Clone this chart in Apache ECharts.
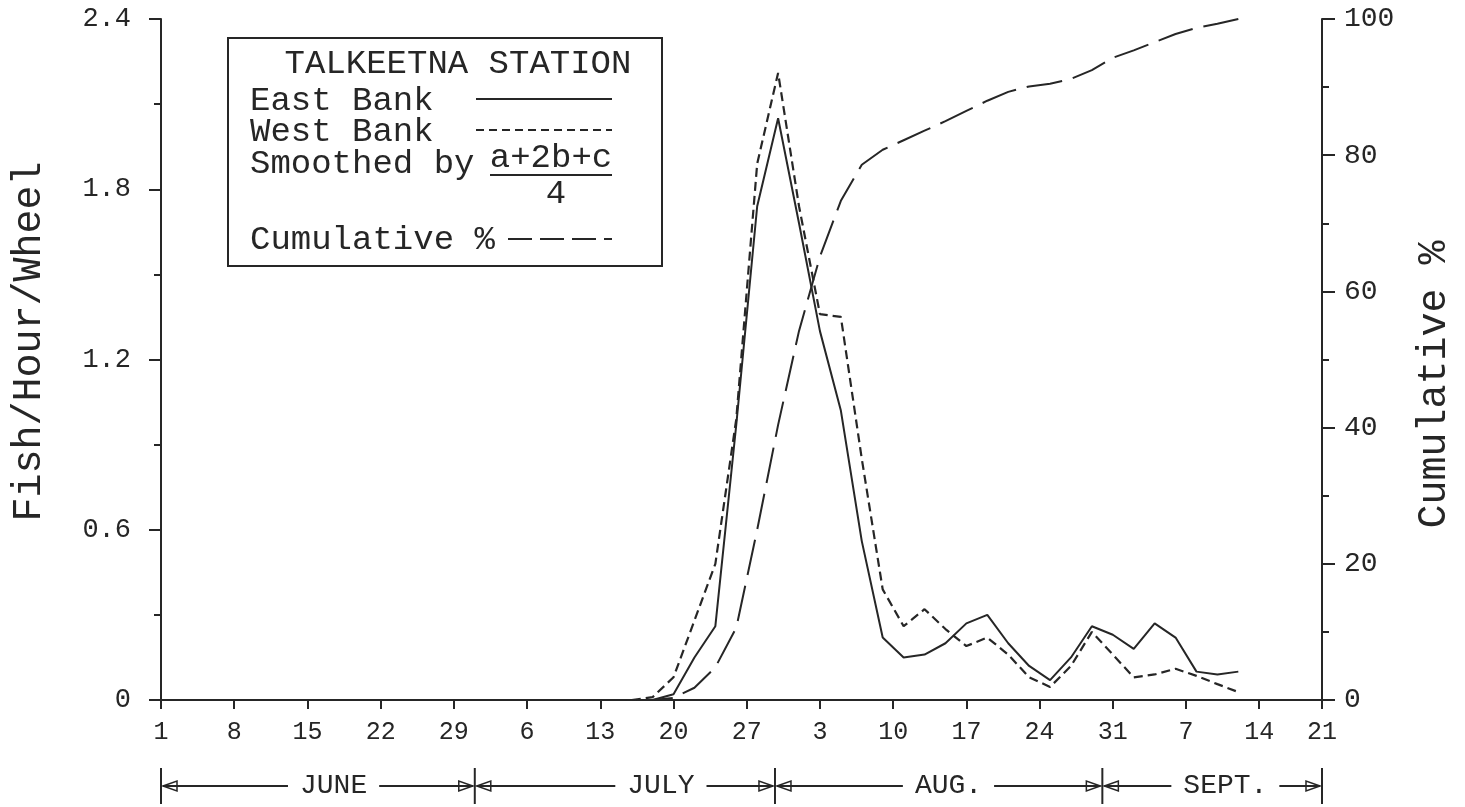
<!DOCTYPE html>
<html><head><meta charset="utf-8">
<script src="https://cdn.jsdelivr.net/npm/echarts@6/dist/echarts.min.js"></script>
<style>html,body{margin:0;padding:0;background:#fff}#c{width:1465px;height:807px}</style>
</head><body><div id="c"></div>
<script>
// ---- data (day 0 = June 1) ----
const days = [41,43,45,47,49,51,53,55,57,59,61,63,65,67,69,71,73,75,77,79,81,83,85,87,89,91,93,95,97,99,101,103];
const eastBank = [0,0,0,0,0.02,0.15,0.26,0.97,1.74,2.05,1.68,1.30,1.02,0.56,0.22,0.15,0.16,0.20,0.27,0.30,0.20,0.12,0.07,0.15,0.26,0.23,0.18,0.27,0.22,0.10,0.09,0.10];
const westBank = [0,0,0,0.01,0.08,0.28,0.48,0.99,1.89,2.21,1.74,1.36,1.35,0.85,0.39,0.26,0.32,0.25,0.19,0.22,0.16,0.08,0.046,0.12,0.24,0.16,0.08,0.09,0.11,0.085,0.056,0.028];
const cumulativePct = [0,0,0,0,0.3,1.8,4.8,10.6,25.0,40.4,54.2,65.1,73.3,78.6,80.8,82.2,83.6,85.0,86.5,88.0,89.3,90.1,90.5,91.2,92.5,94.3,95.4,96.6,97.8,98.7,99.3,100];
const xTickLabels = ['1','8','15','22','29','6','13','20','27','3','10','17','24','31','7','14','21'];
const leftTickLabels = ['0','0.6','1.2','1.8','2.4'];
const rightTickLabels = ['0','20','40','60','80','100'];
const monthNames = ['JUNE','JULY','AUG.','SEPT.'];
const monthBounds = [0,30,58.7,90,111];
const legendTitle = 'TALKEETNA STATION';
const legendLabels = ['East Bank','West Bank','Smoothed by','Cumulative %'];
const smoothNumerator = 'a+2b+c';
const smoothDenominator = '4';

// ---- styling ----
const INK = '#262626';
const FONT = '"Liberation Mono", "DejaVu Sans Mono", monospace';
const pairs = (vals) => days.map((d, i) => [d, vals[i]]);

const chart = echarts.init(document.getElementById('c'), null, {renderer: 'canvas'});
const option = {
  animation: false,
  backgroundColor: '#fff',
  grid: {left: 161, right: 143, top: 19, bottom: 107, containLabel: false},
  xAxis: {
    type: 'value', min: 0, max: 111, interval: 7,
    axisLine: {show: true, lineStyle: {color: INK, width: 2}},
    axisTick: {show: true, length: 9, lineStyle: {color: INK, width: 2}},
    axisLabel: {formatter: v => xTickLabels[Math.round(v / 7)], fontFamily: FONT, fontSize: 25, color: INK, margin: 20, showMaxLabel: true},
    splitLine: {show: false}
  },
  yAxis: [{
    type: 'value', min: 0, max: 2.4, interval: 0.6, position: 'left',
    axisLine: {show: true, lineStyle: {color: INK, width: 2}},
    axisTick: {show: true, length: 12, lineStyle: {color: INK, width: 2}},
    minorTick: {show: true, splitNumber: 2, length: 7, lineStyle: {color: INK, width: 2}},
    axisLabel: {formatter: v => leftTickLabels[Math.round(v / 0.6)], fontFamily: FONT, fontSize: 27, color: INK, margin: 30},
    splitLine: {show: false},
    name: 'Fish/Hour/Wheel', nameLocation: 'middle', nameRotate: 90, nameGap: 112,
    nameTextStyle: {fontFamily: FONT, fontSize: 40, color: INK, padding: [0, 0, 0, 36]}
  }, {
    type: 'value', min: 0, max: 100, interval: 20, position: 'right',
    axisLine: {show: true, lineStyle: {color: INK, width: 2}},
    axisTick: {show: true, length: 13, lineStyle: {color: INK, width: 2}},
    minorTick: {show: true, splitNumber: 2, length: 7, lineStyle: {color: INK, width: 2}},
    axisLabel: {formatter: v => rightTickLabels[Math.round(v / 20)], fontFamily: FONT, fontSize: 28, color: INK, margin: 22},
    splitLine: {show: false},
    name: 'Cumulative %', nameLocation: 'middle', nameRotate: 90, nameGap: 92,
    nameTextStyle: {fontFamily: FONT, fontSize: 40, color: INK, padding: [0, 50, 0, 0]}
  }],
  series: [{
    name: 'East Bank', type: 'line', data: pairs(eastBank), symbol: 'none',
    lineStyle: {color: INK, width: 2, type: 'solid'}
  }, {
    name: 'West Bank', type: 'line', data: pairs(westBank), symbol: 'none',
    lineStyle: {color: INK, width: 2.2, type: [9, 5]}
  }, {
    name: 'Cumulative %', type: 'line', yAxisIndex: 1, data: pairs(cumulativePct), symbol: 'none',
    lineStyle: {color: INK, width: 2, type: [36, 11]}
  }]
};
chart.setOption(option);

// ---- legend box (layout) ----
const LF = '34px ' + FONT;
const txt = (t, x, y, align) => ({type: 'text', style: {text: t, x: x, y: y, font: LF, fill: INK, textAlign: align || 'left', textVerticalAlign: 'middle', verticalAlign: 'middle'}});
const seg = (x1, y1, x2, y2, dash) => ({type: 'line', shape: {x1, y1, x2, y2}, style: {stroke: INK, lineWidth: 2, lineDash: dash || null}});
const graphics = [
  {type: 'rect', shape: {x: 228, y: 38, width: 434, height: 228}, style: {fill: 'none', stroke: INK, lineWidth: 2}},
  txt(legendTitle, 458, 64, 'center'),
  txt(legendLabels[0], 250, 101),
  seg(476, 99, 612, 99),
  txt(legendLabels[1], 250, 132),
  seg(476, 130, 612, 130, [8, 5]),
  txt(legendLabels[2], 250, 164),
  txt(smoothNumerator, 551, 158, 'center'),
  seg(490, 175, 612, 175),
  txt(smoothDenominator, 556, 194, 'center'),
  txt(legendLabels[3], 250, 240),
  seg(508, 239, 612, 239, [24, 8])
];

// ---- month bar under the axis, placed with the axis scale ----
const px = monthBounds.map(d => chart.convertToPixel({xAxisIndex: 0}, d));
const MY = 786, MF = 28, CW = MF * 0.6;
const frac = [0.55, 0.62, 0.53, 0.56];
px.forEach(x => graphics.push(seg(x, 768, x, 804)));
monthNames.forEach((m, i) => {
  const x0 = px[i], x1 = px[i + 1];
  const xc = x0 + (x1 - x0) * frac[i];
  const hw = m.length * CW / 2;
  graphics.push({type: 'text', style: {text: m, x: xc, y: MY, font: MF + 'px ' + FONT, fill: INK, textAlign: 'center', textVerticalAlign: 'middle', verticalAlign: 'middle'}});
  graphics.push(seg(x0 + 2, MY, xc - hw - 12, MY));
  graphics.push(seg(xc + hw + 12, MY, x1 - 2, MY));
  graphics.push({type: 'polygon', shape: {points: [[x0 + 2, MY], [x0 + 16, MY - 5], [x0 + 16, MY + 5]]}, style: {fill: 'none', stroke: INK, lineWidth: 1.5}});
  graphics.push({type: 'polygon', shape: {points: [[x1 - 2, MY], [x1 - 16, MY - 5], [x1 - 16, MY + 5]]}, style: {fill: 'none', stroke: INK, lineWidth: 1.5}});
});
chart.setOption({graphic: graphics});
</script>
</body></html>
